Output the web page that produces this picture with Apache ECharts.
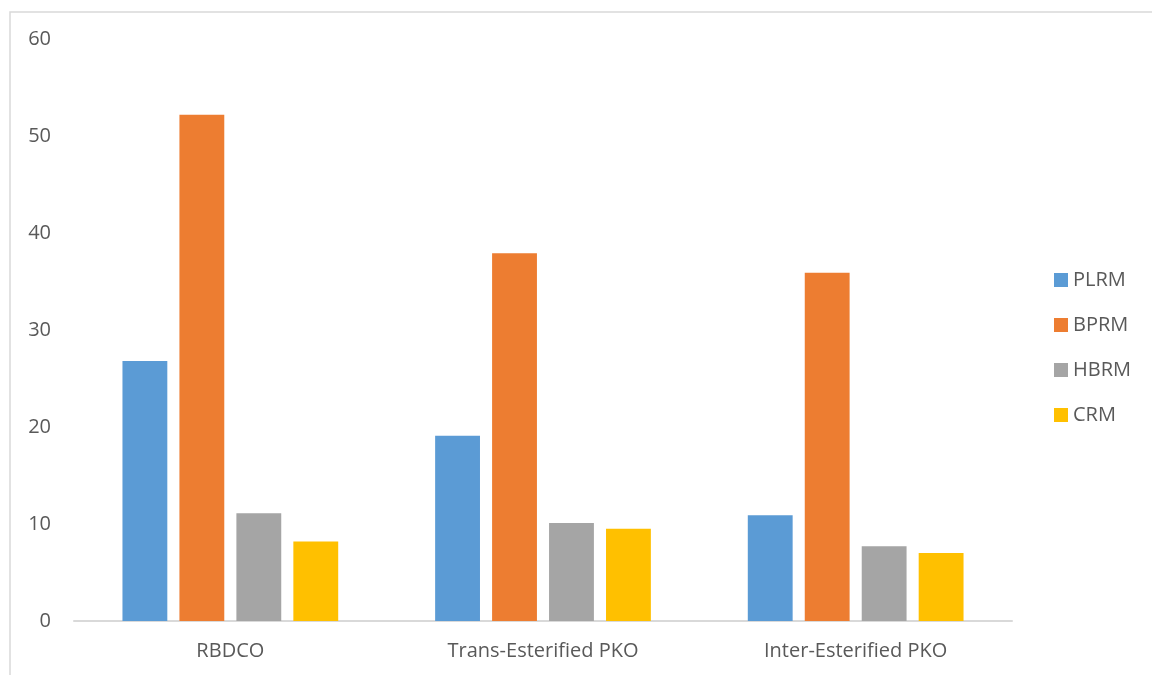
<!DOCTYPE html>
<html lang="en">
<head>
    <meta charset="UTF-8">
    <title>Chart</title>
    <script src="https://cdn.jsdelivr.net/npm/echarts@6/dist/echarts.min.js"></script>
</head>
<body style="margin:0;background:#fff;">
<div id="main" style="width:1152px;height:675px;"></div>
<script type="text/javascript">
    // data
    var categories = ['RBDCO', 'Trans-Esterified PKO', 'Inter-Esterified PKO'];
    var plrm = [26.8, 19.1, 10.9];
    var bprm = [52.2, 37.9, 35.9];
    var hbrm = [11.1, 10.1, 7.7];
    var crm = [8.2, 9.5, 7.0];
    var seriesNames = ['PLRM', 'BPRM', 'HBRM', 'CRM'];
    var colors = ['#5B9BD5', '#ED7D31', '#A5A5A5', '#FFC000'];

    var font = 'Open Sans';
    var myChart = echarts.init(document.getElementById('main'));

    var seriesData = [plrm, bprm, hbrm, crm];
    var series = [];
    for (var i = 0; i < seriesNames.length; i++) {
        series.push({
            name: seriesNames[i],
            type: 'bar',
            data: seriesData[i],
            barGap: '27%',
            barCategoryGap: '31%',
            itemStyle: { color: colors[i] }
        });
    }

    myChart.setOption({
        animation: false,
        color: colors,
        textStyle: { fontFamily: font },
        graphic: [{
            type: 'rect',
            shape: { x: 10, y: 12, width: 1300, height: 800 },
            style: { fill: null, stroke: '#d9d9d9', lineWidth: 1.5 },
            silent: true
        }],
        grid: {
            left: 74,
            right: 140,
            top: 39,
            bottom: 54
        },
        legend: {
            orient: 'vertical',
            left: 1049,
            top: 265,
            itemWidth: 14,
            itemHeight: 14,
            itemGap: 25,
            icon: 'rect',
            textStyle: { fontSize: 20, color: '#595959', fontFamily: font, lineHeight: 20 },
            data: seriesNames
        },
        xAxis: {
            type: 'category',
            data: categories,
            axisLine: { lineStyle: { color: '#d9d9d9', width: 2 } },
            axisTick: { show: false },
            axisLabel: { fontSize: 20, color: '#595959', margin: 20 }
        },
        yAxis: {
            type: 'value',
            min: 0,
            max: 60,
            interval: 10,
            splitLine: { show: false },
            axisLine: { show: false },
            axisTick: { show: false },
            axisLabel: { fontSize: 20, color: '#595959', margin: 23 }
        },
        series: series
    });
</script>
</body>
</html>
